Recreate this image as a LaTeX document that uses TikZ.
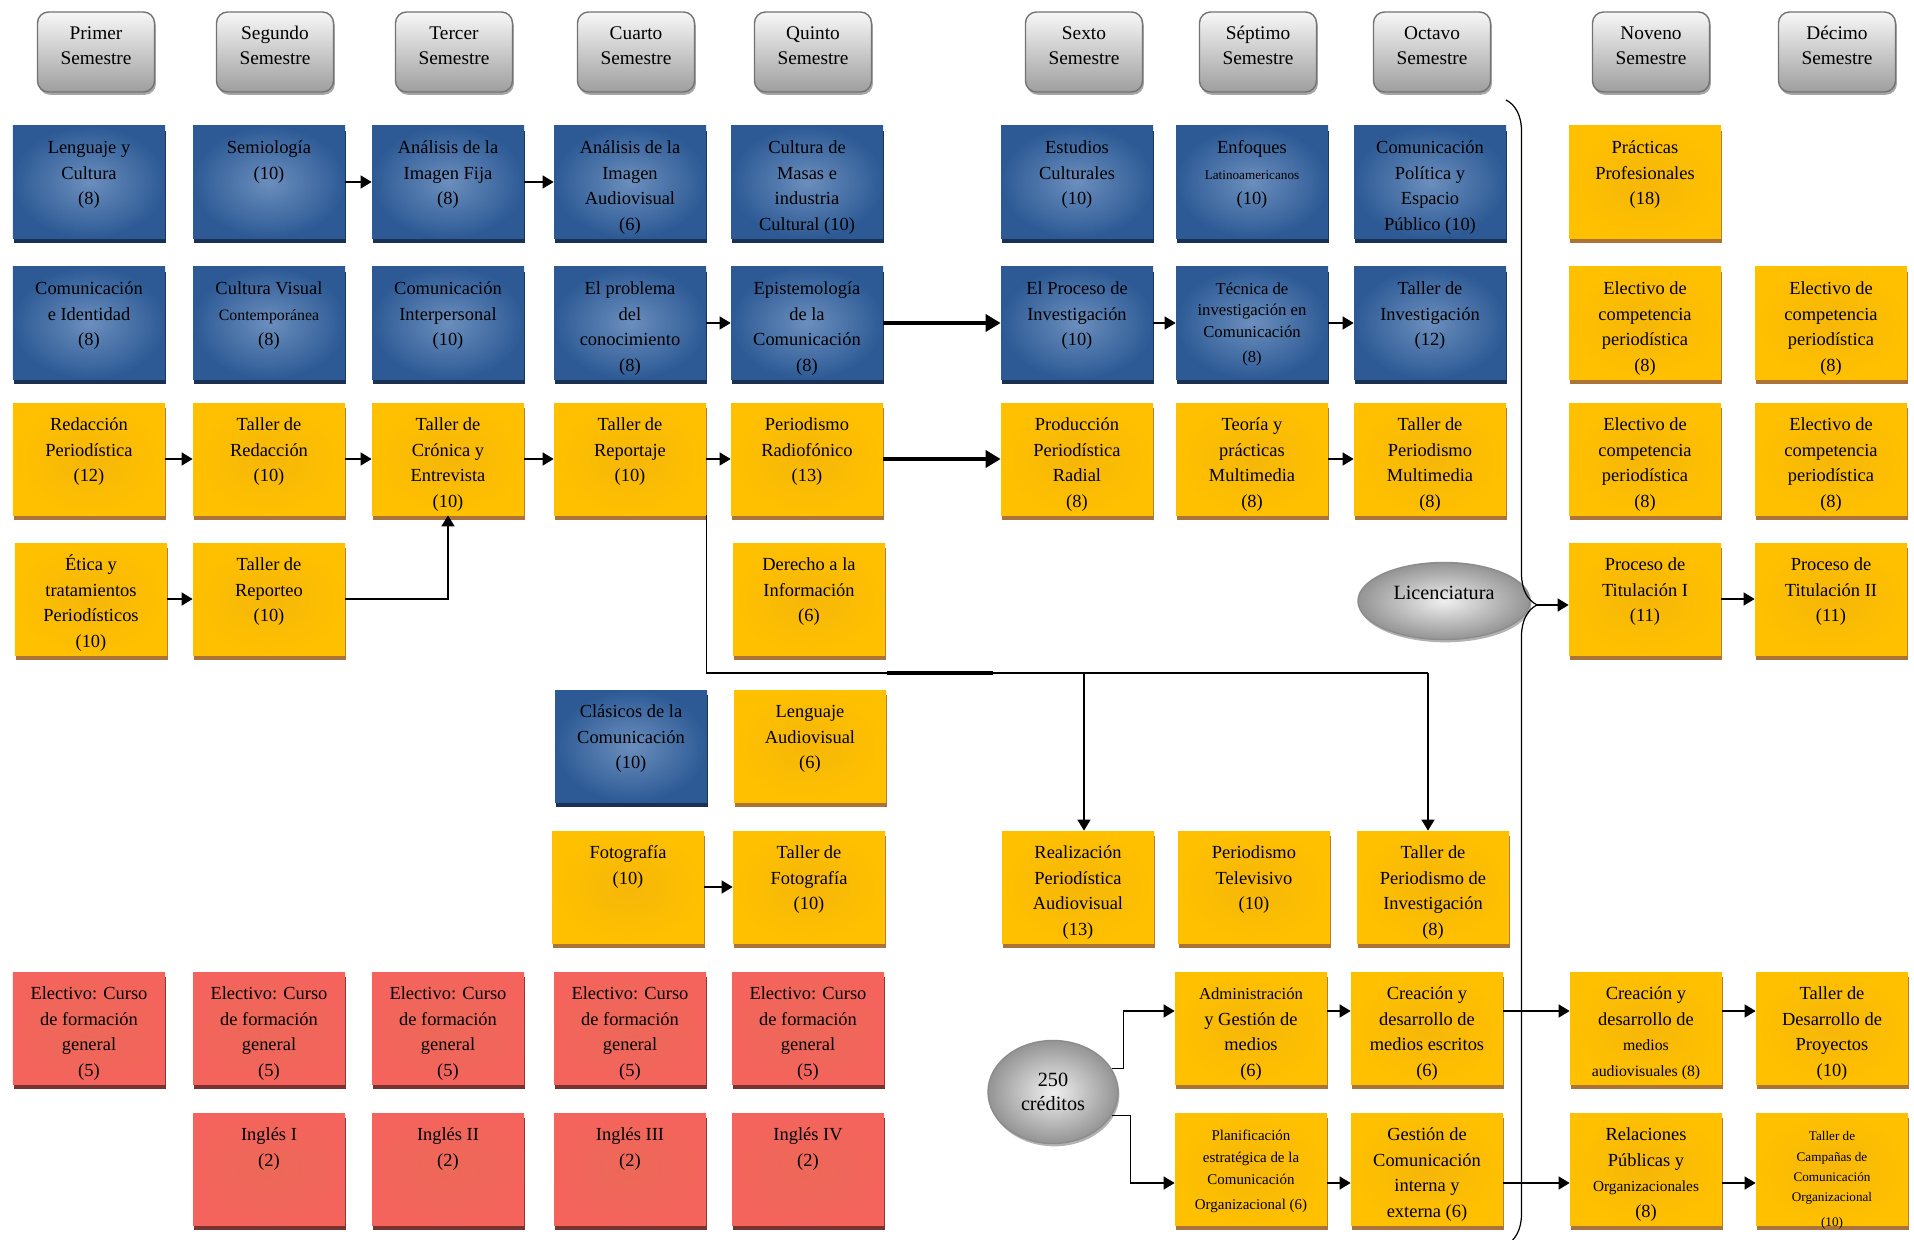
\documentclass[tikz,border=0pt]{standalone}
\usepackage{fontspec}
\setmainfont{Liberation Serif}
\usetikzlibrary{arrows.meta,shapes.geometric,shadows,decorations.pathreplacing,positioning}
\definecolor{mblue}{HTML}{3A69A7}
\definecolor{mblued}{HTML}{2D5A95}
\definecolor{myellow}{HTML}{FFC000}
\definecolor{mred}{HTML}{F4645C}
\newcommand{\cursofont}{\fontsize{10.5}{14.5}\selectfont}
\newcommand{\semfont}{\fontsize{11}{13.8}\selectfont}
\tikzstyle{l2}=[line width=0.8pt]
\tikzstyle{curso}=[rectangle, minimum width=3.04cm, minimum height=2.24cm, inner sep=0pt, text=black,
  execute at begin node={\begin{minipage}[t][1.84cm][t]{2.95cm}\centering\cursofont\strut},
  execute at end node={\end{minipage}}]
\tikzstyle{azul}=[curso, inner color=mblue!75!white, outer color=mblued, general shadow={fill=mblued!55!black, shadow xshift=0.5pt, shadow yshift=-2.6pt}]
\tikzstyle{amarillo}=[curso, inner color=myellow!85!brown, outer color=myellow, general shadow={fill=brown!90!black, shadow xshift=0.5pt, shadow yshift=-2.6pt}]
\tikzstyle{rojo}=[curso, inner color=mred!85!brown, outer color=mred, general shadow={fill=mred!50!black, shadow xshift=0.5pt, shadow yshift=-2.6pt}]
\tikzstyle{semestre}=[rectangle, rounded corners=2.2mm, draw=black!55, l2, minimum width=2.34cm, minimum height=1.6cm, inner sep=0pt, top color=black!3, bottom color=black!38,
  execute at begin node={\begin{minipage}[t][1.16cm][t]{2.3cm}\centering\semfont\strut},
  execute at end node={\end{minipage}},
  general shadow={fill=black!35, shadow xshift=0.8pt, shadow yshift=-1.6pt}]
\tikzstyle{ovalo}=[ellipse, draw=black!45, l2, inner color=black!6, outer color=black!42, align=center, font=\fontsize{11.5}{14}\selectfont, general shadow={fill=black!30, shadow xshift=0.8pt, shadow yshift=-1.6pt}]
\tikzstyle{flecha}=[l2, -{Triangle[length=2.2mm, width=2.6mm]}]
\tikzstyle{gruesa}=[line width=2pt, -{Triangle[length=3mm, width=3.4mm]}]
\tikzstyle{llave}=[line width=0.7pt, decorate, decoration={brace, amplitude=0.62cm, aspect=0.441}]

\begin{document}
\begin{tikzpicture}[x=0.2mm, y=-0.2mm]
    \useasboundingbox[fill=white] (0,0) rectangle (1914,1240);

    \node (s1) [semestre] at (96,52) {Primer\\Semestre};
    \node (s2) [semestre] at (275,52) {Segundo\\Semestre};
    \node (s3) [semestre] at (454,52) {Tercer\\Semestre};
    \node (s4) [semestre] at (636,52) {Cuarto\\Semestre};
    \node (s5) [semestre] at (813,52) {Quinto\\Semestre};
    \node (s6) [semestre] at (1084,52) {Sexto\\Semestre};
    \node (s7) [semestre] at (1258,52) {Séptimo\\Semestre};
    \node (s8) [semestre] at (1432,52) {Octavo\\Semestre};
    \node (s9) [semestre] at (1651,52) {Noveno\\Semestre};
    \node (s10) [semestre] at (1837,52) {Décimo\\Semestre};

    % fila 1
    \node (c1r1) [azul] at (89,182) {Lenguaje y\\Cultura\\(8)};
    \node (c2r1) [azul] at (269,182) {Semiología\\(10)};
    \node (c3r1) [azul] at (448,182) {Análisis de la\\Imagen Fija\\(8)};
    \node (c4r1) [azul] at (630,182) {Análisis de la\\Imagen\\Audiovisual\\(6)};
    \node (c5r1) [azul] at (807,182) {Cultura de\\Masas e\\industria\\Cultural (10)};
    \node (c6r1) [azul] at (1077,182) {Estudios\\Culturales\\(10)};
    \node (c7r1) [azul] at (1252,182) {Enfoques\\{\fontsize{7.5}{9}\selectfont Latinoamericanos}\\(10)};
    \node (c8r1) [azul] at (1430,182) {Comunicación\\Política y\\Espacio\\Público (10)};
    \node (c9r1) [amarillo] at (1645,182) {Prácticas\\Profesionales\\(18)};

    % fila 2
    \node (c1r2) [azul] at (89,323) {Comunicación\\e Identidad\\(8)};
    \node (c2r2) [azul] at (269,323) {Cultura Visual\\{\fontsize{9}{11}\selectfont Contemporánea}\\(8)};
    \node (c3r2) [azul] at (448,323) {Comunicación\\Interpersonal\\(10)};
    \node (c4r2) [azul] at (630,323) {El problema\\del\\conocimiento\\(8)};
    \node (c5r2) [azul] at (807,323) {Epistemología\\de la\\Comunicación\\(8)};
    \node (c6r2) [azul] at (1077,323) {El Proceso de\\Investigación\\(10)};
    \node (c7r2) [azul] at (1252,323) {\fontsize{9.5}{12}\selectfont Técnica de\\investigación en\\Comunicación\\(8)};
    \node (c8r2) [azul] at (1430,323) {Taller de\\Investigación\\(12)};
    \node (c9r2) [amarillo] at (1645,323) {Electivo de\\competencia\\periodística\\(8)};
    \node (c10r2) [amarillo] at (1831,323) {Electivo de\\competencia\\periodística\\(8)};

    % fila 3
    \node (c1r3) [amarillo] at (89,459) {Redacción\\Periodística\\(12)};
    \node (c2r3) [amarillo] at (269,459) {Taller de\\Redacción\\(10)};
    \node (c3r3) [amarillo] at (448,459) {Taller de\\Crónica y\\Entrevista\\(10)};
    \node (c4r3) [amarillo] at (630,459) {Taller de\\Reportaje\\(10)};
    \node (c5r3) [amarillo] at (807,459) {Periodismo\\Radiofónico\\(13)};
    \node (c6r3) [amarillo] at (1077,459) {Producción\\Periodística\\Radial\\(8)};
    \node (c7r3) [amarillo] at (1252,459) {Teoría y\\prácticas\\Multimedia\\(8)};
    \node (c8r3) [amarillo] at (1430,459) {Taller de\\Periodismo\\Multimedia\\(8)};
    \node (c9r3) [amarillo] at (1645,459) {Electivo de\\competencia\\periodística\\(8)};
    \node (c10r3) [amarillo] at (1831,459) {Electivo de\\competencia\\periodística\\(8)};

    % fila 4
    \node (c1r4) [amarillo] at (91,599) {Ética y\\tratamientos\\Periodísticos\\(10)};
    \node (c2r4) [amarillo] at (269,599) {Taller de\\Reporteo\\(10)};
    \node (c5r4) [amarillo] at (809,599) {Derecho a la\\Información\\(6)};
    \node (c9r4) [amarillo] at (1645,599) {Proceso de\\Titulación I\\(11)};
    \node (c10r4) [amarillo] at (1831,599) {Proceso de\\Titulación II\\(11)};

    % filas 5 y 6
    \node (c4r5) [azul] at (631,746) {Clásicos de la\\Comunicación\\(10)};
    \node (c5r5) [amarillo] at (810,746) {Lenguaje\\Audiovisual\\(6)};
    \node (c4r6) [amarillo] at (628,887) {Fotografía\\(10)};
    \node (c5r6) [amarillo] at (809,887) {Taller de\\Fotografía\\(10)};
    \node (c6r6) [amarillo] at (1078,887) {Realización\\Periodística\\Audiovisual\\(13)};
    \node (c7r6) [amarillo] at (1254,887) {Periodismo\\Televisivo\\(10)};
    \node (c8r6) [amarillo] at (1433,887) {Taller de\\Periodismo de\\Investigación\\(8)};

    % filas 7 y 8
    \node (c1r7) [rojo] at (89,1028) {Electivo: Curso\\de formación\\general\\(5)};
    \node (c2r7) [rojo] at (269,1028) {Electivo: Curso\\de formación\\general\\(5)};
    \node (c3r7) [rojo] at (448,1028) {Electivo: Curso\\de formación\\general\\(5)};
    \node (c4r7) [rojo] at (630,1028) {Electivo: Curso\\de formación\\general\\(5)};
    \node (c5r7) [rojo] at (808,1028) {Electivo: Curso\\de formación\\general\\(5)};
    \node (c7r7) [amarillo] at (1251,1028) {{\fontsize{9.5}{12}\selectfont Administración}\\y Gestión de\\medios\\(6)};
    \node (c8r7) [amarillo] at (1427,1028) {Creación y\\desarrollo de\\medios escritos\\(6)};
    \node (c9r7) [amarillo] at (1646,1028) {Creación y\\desarrollo de\\{\fontsize{9}{11}\selectfont medios}\\{\fontsize{9}{11}\selectfont audiovisuales (8)}};
    \node (c10r7) [amarillo] at (1832,1028) {Taller de\\Desarrollo de\\Proyectos\\(10)};
    \node (c2r8) [rojo] at (269,1169) {Inglés I\\(2)};
    \node (c3r8) [rojo] at (448,1169) {Inglés II\\(2)};
    \node (c4r8) [rojo] at (630,1169) {Inglés III\\(2)};
    \node (c5r8) [rojo] at (808,1169) {Inglés IV\\(2)};
    \node (c7r8) [amarillo] at (1251,1169) {\fontsize{8.5}{12.4}\selectfont Planificación\\estratégica de la\\Comunicación\\Organizacional (6)};
    \node (c8r8) [amarillo] at (1427,1169) {Gestión de\\Comunicación\\interna y\\externa (6)};
    \node (c9r8) [amarillo] at (1646,1169) {Relaciones\\Públicas y\\{\fontsize{8.7}{11}\selectfont Organizacionales}\\(8)};
    \node (c10r8) [amarillo] at (1832,1169) {\fontsize{7.5}{11.5}\selectfont Taller de\\Campañas de\\Comunicación\\Organizacional\\(10)};

    \node (lic) [ovalo, minimum width=3.44cm, minimum height=1.54cm, text depth=0.34cm] at (1444,601) {Licenciatura};
    \node (cre) [ovalo, minimum width=2.6cm, minimum height=2.06cm] at (1053,1092) {250\\créditos};

    % conexiones
    \draw[flecha] (c2r1) -- (c3r1);
    \draw[flecha] (c3r1) -- (c4r1);
    \draw[flecha] (c4r2) -- (c5r2);
    \draw[gruesa] (c5r2) -- (c6r2);
    \draw[flecha] (c6r2) -- (c7r2);
    \draw[flecha] (c7r2) -- (c8r2);
    \draw[flecha] (c1r3) -- (c2r3);
    \draw[flecha] (c2r3) -- (c3r3);
    \draw[flecha] (c3r3) -- (c4r3);
    \draw[flecha] (c4r3) -- (c5r3);
    \draw[gruesa] (c5r3) -- (c6r3);
    \draw[flecha] (c7r3) -- (c8r3);
    \draw[flecha] (c1r4) -- (c2r4);
    \draw[flecha] (c2r4.east) -| (c3r3.south);
    \draw[flecha] (c9r4) -- (c10r4);
    \draw[flecha] (c4r6) -- (c5r6);

    \coordinate (b1) at (1084,673);
    \coordinate (b2) at (1428,673);
    \coordinate (g1) at (887,673);
    \coordinate (g2) at (993,673);
    \draw[l2] (c4r3.south east) |- (b2);
    \draw[line width=2pt] (g1) -- (g2);
    \draw[flecha] (b1) -- (b1 |- c6r6.north);
    \draw[flecha] (b2) -- (b2 |- c8r6.north);

    \draw[flecha] (cre.22) -- ++(12,0) |- ([yshift=3.4mm]c7r7.west);
    \draw[flecha] (cre.-22) -- ++(19,0) |- ([yshift=-2.8mm]c7r8.west);
    \draw[flecha] ([yshift=3.4mm]c7r7.east) -- ([yshift=3.4mm]c8r7.west);
    \draw[flecha] ([yshift=3.4mm]c8r7.east) -- ([yshift=3.4mm]c9r7.west);
    \draw[flecha] ([yshift=3.4mm]c9r7.east) -- ([yshift=3.4mm]c10r7.west);
    \draw[flecha] ([yshift=-2.8mm]c7r8.east) -- ([yshift=-2.8mm]c8r8.west);
    \draw[flecha] ([yshift=-2.8mm]c8r8.east) -- ([yshift=-2.8mm]c9r8.west);
    \draw[flecha] ([yshift=-2.8mm]c9r8.east) -- ([yshift=-2.8mm]c10r8.west);

    \draw[llave] (1506,100) -- (1506,1245);
    \coordinate (tip) at (1537,605);
    \draw[flecha] (tip) -- (tip -| c9r4.west);

\end{tikzpicture}
\end{document}
